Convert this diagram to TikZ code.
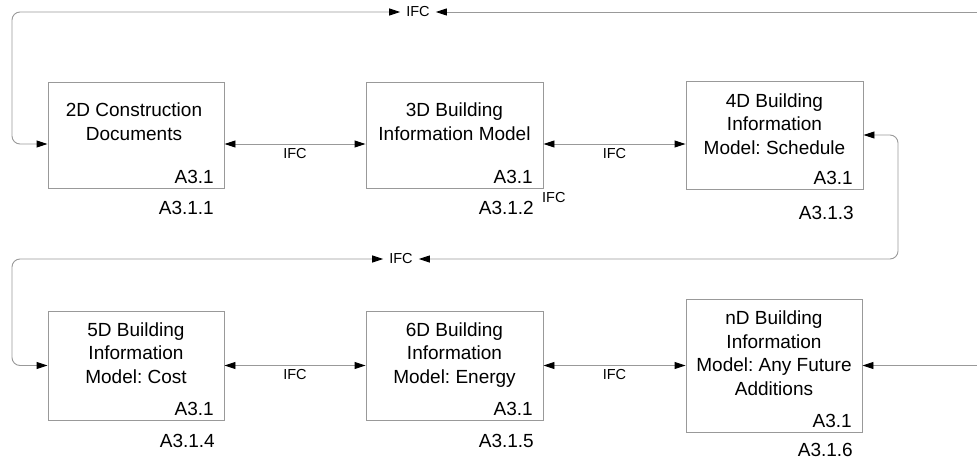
\documentclass[tikz,border=0pt]{standalone}
\usepackage{fontspec}
\setmainfont{Liberation Sans}
\usetikzlibrary{arrows.meta}
\definecolor{wire}{HTML}{999999}
\frenchspacing
\begin{document}
\begin{tikzpicture}[x=1pt,y=-1pt,
  >={Triangle[length=11pt,width=7pt,color=black]},
  box/.style={draw=wire,line width=0.9pt,inner sep=0pt},
  title/.style={font=\fontsize{19}{23.5}\selectfont,align=center,anchor=base,inner sep=0pt},
  code/.style={font=\fontsize{19}{23}\selectfont,anchor=base east,inner sep=0pt},
  ifc/.style={font=\fontsize{14.5}{17}\selectfont,inner sep=0pt},
  ifcbar/.style={font=\fontsize{14.5}{17}\selectfont,inner sep=6pt},
  conn/.style={draw=wire,line width=0.9pt},
  loop/.style={conn,rounded corners=8pt}]
\useasboundingbox (0,0) rectangle (977,460);

% activity boxes
\node[box,minimum width=176pt,minimum height=106pt] (b1) at (136,135) {};
\node[box,minimum width=177pt,minimum height=106pt] (b2) at (454.5,135) {};
\node[box,minimum width=177pt,minimum height=108pt] (b3) at (774.5,135) {};
\node[box,minimum width=176pt,minimum height=109pt] (b4) at (136,365.5) {};
\node[box,minimum width=177pt,minimum height=109pt] (b5) at (454.5,365.5) {};
\node[box,minimum width=176pt,minimum height=133pt] (b6) at (774,365.5) {};

% box titles (placed by the baseline of their last line)
\node[title] (t1) at (134,140) {2D Construction\\Documents};
\node[title] (t2) at (454.5,140) {3D Building\\Information Model};
\node[title] (t3) at (774.5,154) {4D Building\\Information\\Model: Schedule};
\node[title] (t4) at (136,383) {5D Building\\Information\\Model: Cost};
\node[title] (t5) at (454.5,383) {6D Building\\Information\\Model: Energy};
\node[title] (t6) at (774,395) {nD Building\\Information\\Model: Any Future\\Additions};

% inner references
\node[code] (r1) at (214,183) {A3.1};
\node[code] (r2) at (533,183) {A3.1};
\node[code] (r3) at (853,184) {A3.1};
\node[code] (r4) at (214,415) {A3.1};
\node[code] (r5) at (533,415) {A3.1};
\node[code] (r6) at (852,427) {A3.1};

% node numbers
\node[code] (n1) at (214,214) {A3.1.1};
\node[code] (n2) at (534,214) {A3.1.2};
\node[code] (n3) at (854,219) {A3.1.3};
\node[code] (n4) at (215,447) {A3.1.4};
\node[code] (n5) at (534,447) {A3.1.5};
\node[code] (n6) at (853,456.5) {A3.1.6};

\node[ifc,anchor=base west] (ifcx) at (542,202) {IFC};

% links between neighbouring boxes
\draw[conn,<->] ([yshift=-9pt]b1.east) -- node[ifc,anchor=base,yshift=-14pt] (l12) {IFC} ([yshift=-9pt]b2.west);
\draw[conn,<->] ([yshift=-9pt]b2.east) -- node[ifc,anchor=base,yshift=-14pt] (l23) {IFC} ([yshift=-9pt]b3.west);
\draw[conn,<->] (b4.east) -- node[ifc,anchor=base,yshift=-14pt] (l45) {IFC} (b5.west);
\draw[conn,<->] (b5.east) -- node[ifc,anchor=base,yshift=-14pt] (l56) {IFC} (b6.west);

% return loops
\node[ifcbar] (ifcTop) at (418,12) {IFC};
\node[ifcbar] (ifcMid) at (401,259) {IFC};

\coordinate (eTop) at (977,12);
\coordinate (cTL) at (12,12);
\coordinate (cTB) at (12,144);
\coordinate (cR1) at (898,135);
\coordinate (cR2) at (898,259);
\coordinate (cML) at (12,259);
\coordinate (cMB) at (12,365.5);
\coordinate (eBot) at (977,365.5);

\draw[conn,->] (eTop) -- (ifcTop.east);
\draw[loop,<->] (ifcTop.west) -- (cTL) -- (cTB) -- ([yshift=-9pt]b1.west);
\draw[loop,<->] (b3.east) -- (cR1) -- (cR2) -- (ifcMid.east);
\draw[loop,<->] (ifcMid.west) -- (cML) -- (cMB) -- (b4.west);
\draw[conn,->] (eBot) -- (b6.east);
\end{tikzpicture}
\end{document}
